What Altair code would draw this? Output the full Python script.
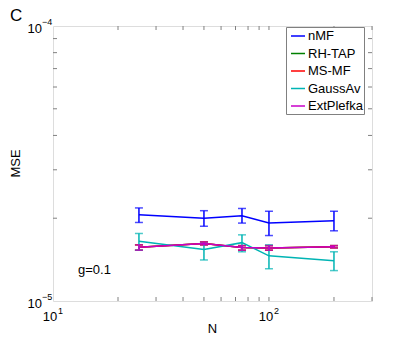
import altair as alt
import pandas as pd

# ---- data ----
N_vals = [25, 50, 75, 100, 200]
series_names = ["nMF", "RH-TAP", "MS-MF", "GaussAv", "ExtPlefka"]
series_colors = ["#0000ff", "#008000", "#ff0000", "#00b4b4", "#c800c8"]

nmf_mean = [2.06e-5, 2.00e-5, 2.04e-5, 1.92e-5, 1.96e-5]
nmf_lo = [1.93e-5, 1.87e-5, 1.92e-5, 1.73e-5, 1.80e-5]
nmf_hi = [2.18e-5, 2.13e-5, 2.17e-5, 2.12e-5, 2.12e-5]

rhtap_mean = [1.57e-5, 1.62e-5, 1.565e-5, 1.56e-5, 1.575e-5]
rhtap_lo = [1.53e-5, 1.60e-5, 1.53e-5, 1.53e-5, 1.56e-5]
rhtap_hi = [1.60e-5, 1.64e-5, 1.59e-5, 1.59e-5, 1.59e-5]

msmf_mean = [1.57e-5, 1.62e-5, 1.565e-5, 1.56e-5, 1.575e-5]
msmf_lo = [1.53e-5, 1.60e-5, 1.53e-5, 1.53e-5, 1.56e-5]
msmf_hi = [1.60e-5, 1.64e-5, 1.59e-5, 1.59e-5, 1.59e-5]

gauss_mean = [1.65e-5, 1.54e-5, 1.63e-5, 1.46e-5, 1.40e-5]
gauss_lo = [1.53e-5, 1.41e-5, 1.51e-5, 1.31e-5, 1.29e-5]
gauss_hi = [1.76e-5, 1.62e-5, 1.74e-5, 1.60e-5, 1.51e-5]

ext_mean = [1.57e-5, 1.62e-5, 1.565e-5, 1.56e-5, 1.575e-5]
ext_lo = [1.53e-5, 1.60e-5, 1.53e-5, 1.53e-5, 1.56e-5]
ext_hi = [1.60e-5, 1.64e-5, 1.59e-5, 1.59e-5, 1.59e-5]

x_minor_ticks = [20, 30, 40, 50, 60, 70, 80, 90, 100, 200, 300]
y_minor_ticks = [2e-5, 3e-5, 4e-5, 5e-5, 6e-5, 7e-5, 8e-5, 9e-5]

x_label_vals = [10, 100]
x_label_exp = ["1", "2"]
y_label_vals = [1e-5, 1e-4]
y_label_exp = ["−5", "−4"]

W, H = 319, 275
FONT = "Liberation Sans"
GRAY = "#808080"

rows = []
for name, m, lo, hi in [
    ("nMF", nmf_mean, nmf_lo, nmf_hi),
    ("RH-TAP", rhtap_mean, rhtap_lo, rhtap_hi),
    ("MS-MF", msmf_mean, msmf_lo, msmf_hi),
    ("GaussAv", gauss_mean, gauss_lo, gauss_hi),
    ("ExtPlefka", ext_mean, ext_lo, ext_hi),
]:
    for i, n in enumerate(N_vals):
        rows.append({"series": name, "N": n, "mse": m[i], "lo": lo[i], "hi": hi[i]})
df = pd.DataFrame(rows)

xscale = alt.Scale(type="log", domain=[10, 300], nice=False)
yscale = alt.Scale(type="log", domain=[1e-5, 1e-4], nice=False)
cscale = alt.Scale(domain=series_names, range=series_colors)


def X(f):
    return alt.X(f, scale=xscale, axis=None)


def Y(f):
    return alt.Y(f, scale=yscale, axis=None)


legend = alt.Legend(title=None, orient="none", legendX=233, legendY=1,
                    symbolType="stroke", symbolSize=196,
                    symbolStrokeWidth=1.5, symbolOffset=3,
                    labelFontSize=13, labelFont=FONT, labelColor="black",
                    strokeColor=GRAY, fillColor="white",
                    padding=1, rowPadding=2.5, labelOffset=2)

series_layers = []
for k, s in enumerate(series_names):
    b = alt.Chart(df).transform_filter(alt.datum.series == s)
    col = alt.Color("series:N", scale=cscale, legend=legend if k == 0 else None)
    line = b.mark_line(strokeWidth=1.5).encode(x=X("N:Q"), y=Y("mse:Q"), color=col)
    rule = b.mark_rule(strokeWidth=1.5).encode(
        x=X("N:Q"), y=Y("lo:Q"), y2="hi:Q",
        color=alt.Color("series:N", scale=cscale, legend=None))
    cap_lo = b.mark_tick(orient="horizontal", size=8, thickness=1.5).encode(
        x=X("N:Q"), y=Y("lo:Q"), color=alt.Color("series:N", scale=cscale, legend=None))
    cap_hi = b.mark_tick(orient="horizontal", size=8, thickness=1.5).encode(
        x=X("N:Q"), y=Y("hi:Q"), color=alt.Color("series:N", scale=cscale, legend=None))
    series_layers += [line, rule, cap_lo, cap_hi]

xt = alt.Chart(pd.DataFrame({"t": x_minor_ticks}))
yt = alt.Chart(pd.DataFrame({"t": y_minor_ticks}))
tick_style = dict(color=GRAY, strokeWidth=1)
xt_bottom = xt.mark_rule(**tick_style).encode(x=X("t:Q"), y=alt.value(H), y2=alt.value(H - 4))
xt_top = xt.mark_rule(**tick_style).encode(x=X("t:Q"), y=alt.value(0), y2=alt.value(4))
yt_left = yt.mark_rule(**tick_style).encode(y=Y("t:Q"), x=alt.value(0), x2=alt.value(4))
yt_right = yt.mark_rule(**tick_style).encode(y=Y("t:Q"), x=alt.value(W), x2=alt.value(W - 4))

# axis labels as 10 with superscript exponent
xl = alt.Chart(pd.DataFrame({"v": x_label_vals, "e": x_label_exp, "b": ["10", "10"]}))
x_lab_main = xl.mark_text(fontSize=13, font=FONT, align="center", baseline="middle",
                          dx=-3, color="black").encode(
    x=X("v:Q"), y=alt.value(H + 16), text="b:N")
x_lab_exp = xl.mark_text(fontSize=9, font=FONT, align="left", baseline="middle",
                         dx=5, color="black").encode(
    x=X("v:Q"), y=alt.value(H + 10), text="e:N")

yl = alt.Chart(pd.DataFrame({"v": y_label_vals, "e": y_label_exp, "b": ["10", "10"]}))
y_lab_main = yl.mark_text(fontSize=13, font=FONT, align="right", baseline="middle",
                          dy=3, color="black").encode(
    y=Y("v:Q"), x=alt.value(-11), text="b:N")
y_lab_exp = yl.mark_text(fontSize=9, font=FONT, align="left", baseline="middle",
                         dy=-4, color="black").encode(
    y=Y("v:Q"), x=alt.value(-11), text="e:N")


def free_text(txt, x, y, size, angle=0, align="center", baseline="middle"):
    return alt.Chart(pd.DataFrame({"t": [txt]})).mark_text(
        fontSize=size, font=FONT, align=align, baseline=baseline,
        color="black", angle=angle
    ).encode(text="t:N", x=alt.value(x), y=alt.value(y))


title_n = free_text("N", W / 2, H + 28, 13)
title_mse = free_text("MSE", -37, H / 2, 13, angle=270)
label_c = free_text("C", -43, -5, 17, align="left", baseline="alphabetic")
label_g = free_text("g=0.1", 25, 244, 13, align="left")

chart = alt.layer(
    xt_bottom, xt_top, yt_left, yt_right,
    *series_layers,
    x_lab_main, x_lab_exp, y_lab_main, y_lab_exp,
    title_n, title_mse, label_c, label_g,
).properties(
    width=W, height=H,
    autosize=alt.AutoSizeParams(type="none"),
    padding={"left": 45, "top": 18, "right": 31, "bottom": 34},
).configure_view(
    stroke=GRAY, strokeWidth=1
).configure(font=FONT, background="white")

chart.save("out.html", embed_options={"renderer": "svg", "actions": False})
